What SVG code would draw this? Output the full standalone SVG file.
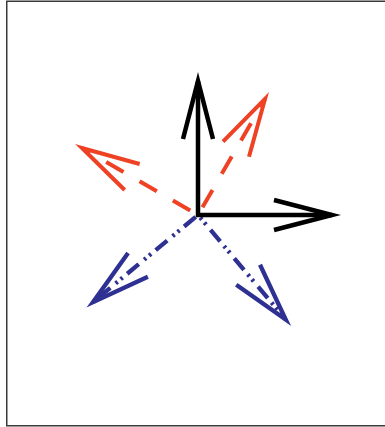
<svg xmlns="http://www.w3.org/2000/svg" width="385" height="427" viewBox="0 0 385 427">
<style>
.frame{fill:#fff;stroke:#3a3a3a;stroke-width:1.5}
.blk{fill:none;stroke:#000;stroke-width:4.5;stroke-miterlimit:12;stroke-linecap:butt}
.red{fill:none;stroke:#EF4123;stroke-width:4;stroke-miterlimit:12;stroke-linecap:butt}
.blu{fill:none;stroke:#2E3192;stroke-width:4.3;stroke-miterlimit:12;stroke-linecap:butt}
.rdash{stroke-dasharray:20 18.5}
.bdash{stroke-dasharray:15 6 2.5 4 2.5 7}
</style>
<defs>
<path id="headB" d="M76,-15 L134,0 L76,15"/>
<path id="headC" d="M76,-15 L134,0 L76,15"/>
<path id="headD" d="M78,-15.5 L136.5,0 L78,15.5"/>
</defs>
<rect class="frame" x="6.75" y="1.25" width="400" height="424.5"/>
<g id="connectors">
<g id="blue-lower-left" class="blu" transform="translate(198,215) rotate(140.3)">
<line class="bdash" x1="0" y1="0" x2="136" y2="0" stroke-dashoffset="34"/>
<use href="#headD"/>
</g>
<g id="blue-lower-right" class="blu" transform="translate(198,215) rotate(50)">
<line class="bdash" x1="0" y1="0" x2="136" y2="0" stroke-dashoffset="17.5"/>
<use href="#headD"/>
</g>
<g id="red-upper-right" class="red" transform="translate(198,215) rotate(-60)">
<line class="rdash" x1="0" y1="0" x2="134" y2="0" stroke-dashoffset="29.5"/>
<use href="#headC"/>
</g>
<g id="red-left" class="red" transform="translate(198,215) rotate(-150)">
<line class="rdash" x1="0" y1="0" x2="134" y2="0" stroke-dashoffset="29.5"/>
<use href="#headC"/>
</g>
<g id="black-axes" class="blk">
<path d="M198,81 L198,215 L332,215"/>
<use href="#headB" transform="translate(198,215) rotate(-90)"/>
<use href="#headB" transform="translate(198,215)"/>
</g>
</g>
</svg>
